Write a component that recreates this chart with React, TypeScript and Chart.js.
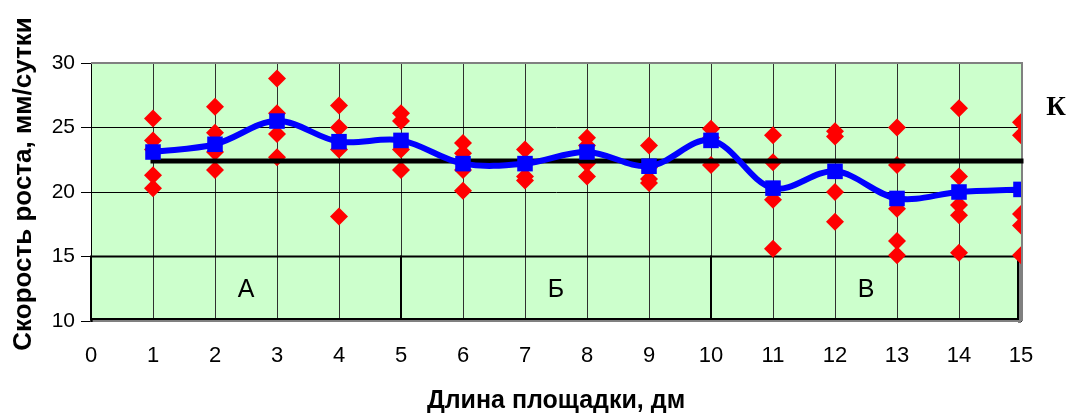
import React, { useEffect, useRef } from "react";
import { Chart, registerables } from "chart.js";

Chart.register(...registerables);

// Positions along the plot (dm)
const positions = [1, 2, 3, 4, 5, 6, 7, 8, 9, 10, 11, 12, 13, 14, 15];

// Individual measurements at each position (mm/day)
const measurements: number[][] = [
  [25.7, 24.0, 23.3, 21.3, 20.3],
  [26.6, 24.6, 23.1, 21.7],
  [28.8, 26.1, 24.5, 22.7],
  [26.7, 25.0, 23.3, 18.1],
  [26.1, 25.5, 23.3, 21.7],
  [23.8, 23.0, 21.7, 20.1],
  [23.3, 22.2, 21.2, 20.9],
  [24.2, 23.6, 22.2, 21.2],
  [23.6, 21.9, 21.0, 20.7],
  [24.9, 24.2, 22.1],
  [24.4, 22.3, 19.4, 15.6],
  [24.7, 24.3, 20.0, 17.7],
  [25.0, 22.1, 18.7, 16.2, 15.1],
  [26.5, 21.2, 19.0, 18.2, 15.3],
  [25.4, 24.4, 18.3, 17.4, 15.1],
];

// Mean growth rate per position
const means = [23.1, 23.7, 25.5, 23.9, 24.0, 22.2, 22.2, 23.1, 22.0, 24.0, 20.3, 21.6, 19.5, 20.0, 20.2];

// Control level "К"
const controlValue = 22.4;
const controlRange = [1, 15];

// Zones along the plot
const zoneLabels = ["А", "Б", "В"];
const zoneBounds = [[0, 5], [5, 10], [10, 15]];
const zoneY = [10, 15];

const yTitle = "Скорость роста, мм/сутки";
const xTitle = "Длина площадки, дм";
const controlLabel = "К";

const decorPlugin = {
  id: "decor",
  beforeDraw(chart: any) {
    const { ctx, chartArea } = chart;
    ctx.save();
    ctx.fillStyle = "#CCFFCC";
    ctx.fillRect(chartArea.left, chartArea.top, chartArea.right - chartArea.left, chartArea.bottom - chartArea.top);
    ctx.restore();
  },
  beforeDatasetsDraw(chart: any) {
    const { ctx, scales, chartArea } = chart;
    const xs = scales.x;
    const ys = scales.y;
    ctx.save();
    // gray frame on top and right
    ctx.strokeStyle = "#808080";
    ctx.lineWidth = 2;
    ctx.beginPath();
    ctx.moveTo(chartArea.left, chartArea.top);
    ctx.lineTo(chartArea.right + 1, chartArea.top);
    ctx.lineTo(chartArea.right + 1, chartArea.bottom);
    ctx.stroke();
    zoneBounds.forEach((b, i) => {
      const x0 = xs.getPixelForValue(b[0]);
      let x1 = xs.getPixelForValue(b[1]);
      if (i === zoneBounds.length - 1) x1 -= 3;
      const yTop = ys.getPixelForValue(zoneY[1]);
      const yBot = ys.getPixelForValue(zoneY[0]);
      ctx.fillStyle = "#808080";
      ctx.fillRect(x0 + 2, yBot - 1, x1 - x0, 2);
      if (i === zoneBounds.length - 1) ctx.fillRect(x1, yTop + 2, 3, yBot - yTop);
      ctx.strokeStyle = "#000";
      ctx.lineWidth = 2;
      ctx.strokeRect(x0, yTop, x1 - x0, yBot - yTop - 2);
      ctx.fillStyle = "#000";
      ctx.font = "25px 'Liberation Sans', Arial, sans-serif";
      ctx.textAlign = "center";
      ctx.textBaseline = "middle";
      ctx.fillText(zoneLabels[i], xs.getPixelForValue((b[0] + b[1]) / 2), ys.getPixelForValue((zoneY[0] + zoneY[1]) / 2) + 1);
    });
    ctx.restore();
  },
  afterDraw(chart: any) {
    const { ctx, chartArea } = chart;
    ctx.save();
    ctx.fillStyle = "#000";
    ctx.font = "bold 26px 'Liberation Sans', Arial, sans-serif";
    ctx.textAlign = "center";
    ctx.textBaseline = "middle";
    ctx.translate(24, 184);
    ctx.rotate(-Math.PI / 2);
    ctx.fillText(yTitle, 0, 0);
    ctx.restore();

    ctx.save();
    ctx.fillStyle = "#000";
    ctx.font = "bold 27px 'Liberation Serif', 'Times New Roman', serif";
    ctx.textAlign = "center";
    ctx.textBaseline = "middle";
    ctx.fillText(controlLabel, chartArea.right + 35, 108);
    ctx.restore();
  },
};

export default function App() {
  const ref = useRef<HTMLCanvasElement | null>(null);

  useEffect(() => {
    document.body.style.margin = "0";
    if (!ref.current) return;
    const redPoints = positions.flatMap((p, i) => measurements[i].map((v) => ({ x: p, y: v })));
    const meanPoints = positions.map((p, i) => ({ x: p, y: means[i] }));
    const controlPoints = controlRange.map((p) => ({ x: p, y: controlValue }));

    const chart = new Chart(ref.current, {
      type: "scatter",
      data: {
        datasets: [
          {
            type: "line",
            label: "Среднее",
            data: meanPoints,
            borderColor: "#0000FF",
            backgroundColor: "#0000FF",
            borderWidth: 6,
            tension: 0.35,
            pointStyle: "rect",
            pointRadius: 11,
            pointBorderWidth: 0,
            showLine: true,
          } as any,
          {
            type: "line",
            label: "К",
            data: controlPoints,
            borderColor: "#000000",
            borderWidth: 5,
            pointRadius: 0,
            borderCapStyle: "square",
            showLine: true,
            clip: false,
          } as any,
          {
            type: "scatter",
            label: "Замеры",
            data: redPoints,
            backgroundColor: "#FF0000",
            borderWidth: 0,
            pointStyle: "rectRot",
            pointRadius: 9,
          } as any,
        ],
      },
      options: {
        animation: false,
        responsive: false,
        layout: { padding: { left: 0, right: 47, top: 63, bottom: 0 } },
        plugins: { legend: { display: false }, tooltip: { enabled: false } },
        scales: {
          x: {
            type: "linear",
            min: 0,
            max: 15,
            afterFit(scale: any) {
              scale.height = 98;
            },
            ticks: {
              stepSize: 1,
              color: "#000",
              padding: 22,
              font: { family: "'Liberation Sans', Arial, sans-serif", size: 22 },
            },
            grid: { color: "#303030", lineWidth: 1, drawTicks: false },
            border: { color: "#303030", width: 2 },
            title: {
              display: true,
              text: xTitle,
              color: "#000",
              font: { family: "'Liberation Sans', Arial, sans-serif", size: 25, weight: "bold" },
              padding: { top: 0, bottom: 3 },
            },
          },
          y: {
            type: "linear",
            min: 10,
            max: 30,
            afterFit(scale: any) {
              scale.width = 91;
            },
            ticks: {
              stepSize: 5,
              color: "#000",
              padding: 6,
              font: { family: "'Liberation Sans', Arial, sans-serif", size: 21 },
            },
            grid: {
              color: (c: any) => (c.tick && c.tick.value === 30 ? "rgba(0,0,0,0)" : "#000"),
              lineWidth: 1,
              tickLength: 10,
              tickColor: "#000",
            },
            border: { color: "#000", width: 1 },
          },
        },
      },
      plugins: [decorPlugin],
    });
    return () => chart.destroy();
  }, []);

  return (
    <div style={{ width: 1068, height: 419 }}>
      <canvas ref={ref} width={1068} height={419} style={{ display: "block" }} />
    </div>
  );
}
